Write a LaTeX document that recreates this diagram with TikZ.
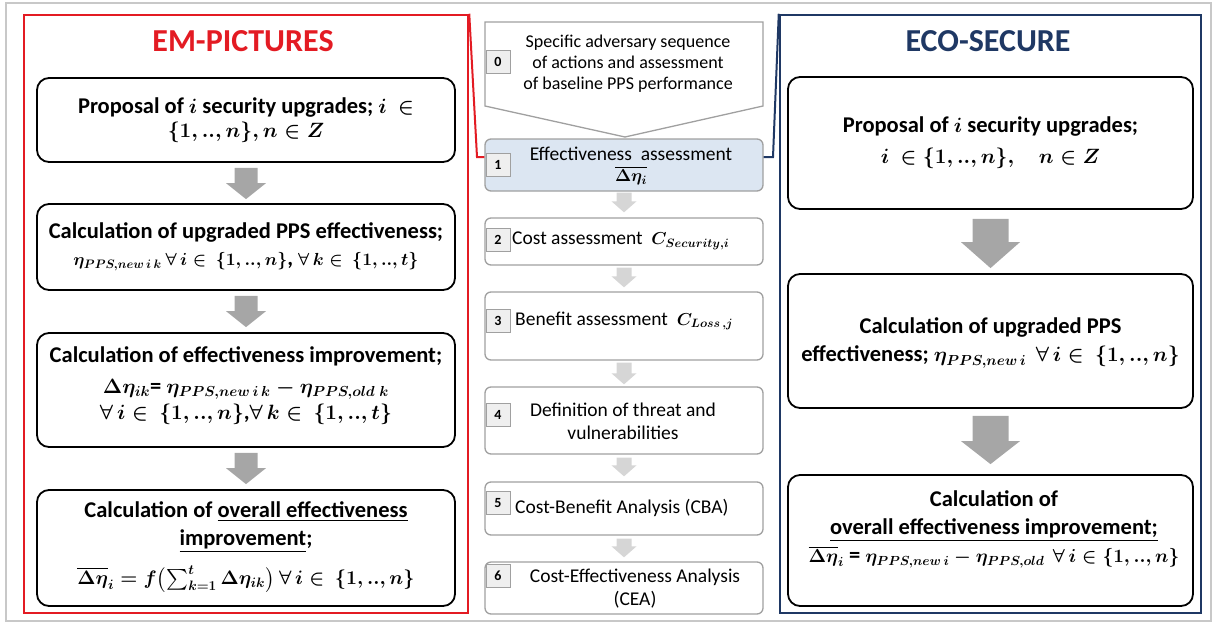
\RequirePackage{fix-cm}
\documentclass[tikz,border=0pt]{standalone}
\usepackage{fontspec}
\setmainfont{Carlito}
\usepackage{amsmath}
\usetikzlibrary{calc}
\definecolor{emred}{HTML}{E31B23}
\definecolor{econavy}{HTML}{1F3864}
\definecolor{arrgray}{HTML}{A6A6A6}
\definecolor{lightarr}{HTML}{D6D6D6}
\definecolor{midborder}{HTML}{A0A0A0}
\definecolor{midblue}{HTML}{DCE6F2}
\definecolor{numfill}{HTML}{EFEFEF}
\definecolor{outerframe}{HTML}{C8C8C8}

% bold math set at its own size inside bigger text
\newcommand\mm[2][20.7]{{\fontsize{#1}{#1}\selectfont\boldmath$#2$}}

% #1 from node, #2 to node, #3 top gap, #4 bottom gap, #5 half shaft, #6 half head, #7 head length, #8 colour
\newcommand\blockarr[8]{%
  \fill[#8] let \p1=(#1.south), \p2=(#2.north) in
  (\x1-#5pt,\y1-#3pt) -- (\x1+#5pt,\y1-#3pt) -- (\x1+#5pt,\y2+#4pt+#7pt)
  -- (\x1+#6pt,\y2+#4pt+#7pt) -- (\x1,\y2+#4pt) -- (\x1-#6pt,\y2+#4pt+#7pt)
  -- (\x1-#5pt,\y2+#4pt+#7pt) -- cycle;}

\tikzset{
  bigbox/.style={draw=black, line width=1.8pt, rounded corners=12pt, fill=white,
    align=center, inner sep=2pt,
    font=\fontsize{22.5}{28}\selectfont\bfseries\boldmath},
  bigtxt/.style={font=\fontsize{22.5}{28}\selectfont\bfseries\boldmath, align=center, inner sep=0pt},
  midbox/.style={draw=midborder, line width=1.3pt, rounded corners=6pt,
    minimum width=278pt, fill=white},
  numbox/.style={draw=midborder, fill=numfill, line width=1pt, minimum width=24pt,
    minimum height=23pt, inner sep=0pt, font=\fontsize{14}{14}\selectfont\bfseries},
  midtxt/.style={font=\fontsize{19.5}{23}\selectfont\boldmath, align=center, inner sep=0pt},
  titletxt/.style={font=\fontsize{32}{32}\selectfont\bfseries, inner sep=0pt},
  frameline/.style={line width=2.5pt, minimum width=#1, minimum height=598pt, inner sep=0pt},
}

\begin{document}
\begin{tikzpicture}[x=1pt,y=-1pt]
\useasboundingbox (0,0) rectangle (1214,624);
\draw[outerframe, line width=1.5pt] (6,3) rectangle (1211,621);

% frames
\node[frameline=444pt, draw=emred] (emf) at (246,314) {};
\node[frameline=421pt, draw=econavy] (ecof) at (990.5,314) {};
\node[titletxt, text=emred] (emt) at (243,41) {EM-PICTURES};
\node[titletxt, text=econavy] (ecot) at (988,41) {ECO-SECURE};

% left column
\node[bigbox, minimum width=418pt, minimum height=84pt] (L1) at (246,120)
  {Proposal of \mm{i} security upgrades; \mm{i\ \in}\\[-4pt] \mm{\{1,..,n\},n\in Z}};
\node[bigbox, minimum width=418pt, minimum height=86pt] (L2) at (246,247)
  {Calculation of upgraded PPS effectiveness;\\[-1pt]
   \mm[17.5]{\eta_{PPS,new\,i\,k}\ \forall\,i\in\ \{1,..,n\}}, \mm[17.5]{\forall\,k\in\ \{1,..,t\}}};
\node[bigbox, minimum width=418pt, minimum height=114pt] (L3) at (246,390) {};
\node[bigtxt] (L3t) at (246,386)
  {Calculation of effectiveness improvement;\\[3pt]
   \mm{\Delta\eta_{ik}}= \mm{\eta_{PPS,new\,i\,k}-\eta_{PPS,old\;k}}\\[-2pt]
   \mm{\forall\,i\in\ \{1,..,n\}},\mm{\forall\,k\in\ \{1,..,t\}}};
\node[bigbox, minimum width=418pt, minimum height=116pt] (L4) at (246,548) {};
\node[bigtxt] (L4t) at (246,527)
  {Calculation of \underline{overall effectiveness}\\
   \underline{improvement};};
\node[bigtxt] (L4m) at (246,579)
  {\mm[19.5]{\overline{\Delta\eta}_i = f\bigl(\textstyle\sum_{k=1}^{t}\Delta\eta_{ik}\bigr)\ \forall\,i\in\ \{1,..,n\}}};

\blockarr{L1}{L2}{5}{4}{11.5}{20}{16}{arrgray}
\blockarr{L2}{L3}{5}{5}{11.5}{20}{16}{arrgray}
\blockarr{L3}{L4}{5}{5}{11.5}{20}{16}{arrgray}

% right column
\node[bigbox, minimum width=405pt, minimum height=132pt] (R1) at (990.5,143)
  {Proposal of \mm{i} security upgrades;\\[3pt]
   \mm{i\ \in\{1,..,n\},\quad n\in Z}};
\node[bigbox, minimum width=405pt, minimum height=134pt] (R2) at (990.5,341) {};
\node[bigtxt] (R2t) at (990.5,343)
  {Calculation of upgraded PPS\\
   effectiveness; \mm{\eta_{PPS,new\,i}\ \ \forall\,i\in\ \{1,..,n\}}};
\node[bigbox, minimum width=405pt, minimum height=131pt] (R3) at (990.5,540.5) {};
\node[bigtxt] (R3t) at (994,529)
  {Calculation of\\
   \underline{overall effectiveness improvement;}\\
   \mm[18.8]{\overline{\Delta\eta}_i} = \mm[18.8]{\eta_{PPS,new\,i}-\eta_{PPS,old}\ \ \forall\,i\in\{1,..,n\}}};

\blockarr{R1}{R2}{9}{5}{18}{29.5}{26}{arrgray}
\blockarr{R2}{R3}{7}{10}{18}{29.5}{23}{arrgray}

% connector bends
\coordinate (rc) at (477,157);
\coordinate (bc) at (773,157);

% middle column
\draw[midborder, line width=1.3pt, fill=white]
  (485,22) -- (763,22) -- (763,106) -- (625,137) -- (485,106) -- cycle;
\node[midtxt, font=\fontsize{18}{21}\selectfont] (b0) at (628,64)
  {Specific adversary sequence\\of actions and assessment\\of baseline PPS performance};
\node[midbox, fill=midblue, minimum height=52pt] (m1) at (624,165) {};
\node[midbox, minimum height=47pt] (m2) at (624,241.5) {};
\node[midbox, minimum height=68pt] (m3) at (624,326) {};
\node[midbox, minimum height=67pt] (m4) at (624,420.5) {};
\node[midbox, minimum height=53pt] (m5) at (624,508.5) {};
\node[midbox, minimum height=52pt] (m6) at (624,588) {};

\draw[emred, line width=2pt] (emf.north east) -- (rc) -- (rc -| m1.west);
\draw[econavy, line width=2pt] (ecof.north west) -- (bc) -- (bc -| m1.east);

\node[midtxt] (t1) at (631,166) {Effectiveness\ \ assessment\\[-2pt] \mm[17.3]{\overline{\Delta\eta_i}}};
\node[midtxt, anchor=west] (t2) at (512,241) {Cost assessment\ \ \mm[17.3]{C_{Security,i}}};
\node[midtxt, anchor=west] (t3) at (515,321) {Benefit assessment\ \ \mm[17.3]{C_{Loss\,,j}}};
\node[midtxt] (t4) at (623,421) {Definition of threat and\\vulnerabilities};
\node[midtxt, anchor=west] (t5) at (515,508) {Cost-Benefit Analysis (CBA)};
\node[midtxt] (t6) at (635,589) {Cost-Effectiveness Analysis\\(CEA)};

\node[numbox] (n0) at (498,62) {0};
\node[numbox] (n1) at (498,165) {1};
\node[numbox] (n2) at (498,240) {2};
\node[numbox] (n3) at (498,321) {3};
\node[numbox] (n4) at (498,415) {4};
\node[numbox] (n5) at (498,503) {5};
\node[numbox] (n6) at (498,576) {6};

\blockarr{m1}{m2}{1}{5}{7.5}{12.5}{11}{lightarr}
\blockarr{m2}{m3}{2}{4}{7.5}{12.5}{11}{lightarr}
\blockarr{m3}{m4}{2}{2}{7.5}{12.5}{11}{lightarr}
\blockarr{m4}{m5}{3}{5}{7.5}{12.5}{11}{lightarr}
\blockarr{m5}{m6}{3}{4}{7.5}{12.5}{11}{lightarr}
\end{tikzpicture}
\end{document}
